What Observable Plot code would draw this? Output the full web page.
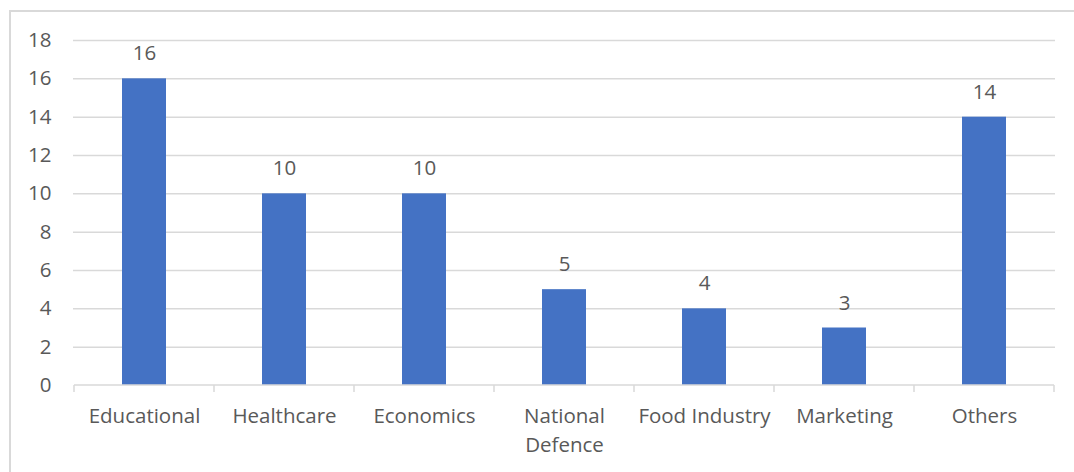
<!DOCTYPE html>
<html>
<head>
<meta charset="utf-8">
<script src="https://cdn.jsdelivr.net/npm/d3@7"></script>
<script src="https://cdn.jsdelivr.net/npm/@observablehq/plot@0.6"></script>
<style>
  html, body { margin: 0; padding: 0; background: #fff; }
  #wrap { position: relative; width: 1074px; height: 472px; overflow: hidden; }
  #frame { position: absolute; left: 9px; top: 10px; width: 1080px; height: 480px; border: 2px solid #d9d9d9; box-sizing: border-box; pointer-events: none; }
  svg { display: block; }
</style>
</head>
<body>
<div id="wrap"><div id="frame"></div></div>
<script>
const categories = ["Educational", "Healthcare", "Economics", "National\nDefence", "Food Industry", "Marketing", "Others"];
const values = [16, 10, 10, 5, 4, 3, 14];
const yTicks = [0, 2, 4, 6, 8, 10, 12, 14, 16, 18];

const data = categories.map((c, i) => ({category: c, value: values[i]}));
const textColor = "#595959";
const gridColor = "#d9d9d9";
const fs = 20.5;

const boundaryTicks = (index, scales, values, dims) => {
  const x = scales.x, y = scales.y;
  const bw = x.bandwidth ? x.bandwidth() : 0;
  const step = x.step ? x.step() : bw;
  const g = d3.create("svg:g");
  const y0 = y(0);
  const xs = categories.map(c => x(c) - (step - bw) / 2);
  xs.push(x(categories[categories.length - 1]) + bw + (step - bw) / 2);
  for (const px of xs) {
    g.append("line").attr("x1", px).attr("x2", px).attr("y1", y0).attr("y2", y0 + 7)
      .attr("stroke", gridColor).attr("stroke-width", 1.5);
  }
  g.append("line").attr("x1", xs[0]).attr("x2", xs[xs.length - 1]).attr("y1", y0).attr("y2", y0)
    .attr("stroke", gridColor).attr("stroke-width", 1.5);
  return g.node();
};

const chart = Plot.plot({
  width: 1074,
  height: 472,
  marginLeft: 73,
  marginRight: 19,
  marginTop: 40,
  marginBottom: 87,
  style: {fontFamily: "'Open Sans', sans-serif", fontSize: fs + "px", color: textColor, background: "transparent"},
  x: {domain: categories, paddingInner: 0.686, paddingOuter: 0.343, label: null},
  y: {domain: [0, 18], label: null},
  marks: [
    Plot.gridY(yTicks.filter(d => d > 0), {stroke: gridColor, strokeWidth: 1.5, strokeOpacity: 1}),
    Plot.axisY(yTicks, {tickSize: 0, tickPadding: 22, fill: textColor, fontSize: fs, label: null}),
    Plot.axisX({tickSize: 0, tickPadding: 16, fill: textColor, fontSize: fs, lineHeight: 1.45, label: null}),
    Plot.barY(data, {x: "category", y: "value", fill: "#4472C4"}),
    boundaryTicks,
    Plot.text(data, {x: "category", y: "value", text: d => String(d.value), dy: -25, fill: textColor, fontSize: fs})
  ]
});
document.getElementById("wrap").insertBefore(chart, document.getElementById("frame"));
</script>
</body>
</html>
